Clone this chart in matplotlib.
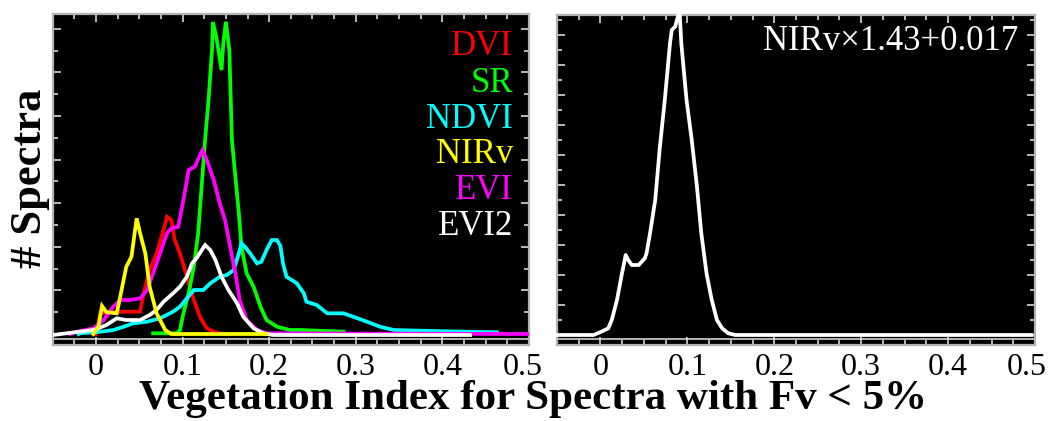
import matplotlib
matplotlib.use("Agg")
import matplotlib.pyplot as plt
from matplotlib.ticker import MultipleLocator
from matplotlib.transforms import ScaledTranslation

# ---------------- data ----------------
dvi_x = [0.000, 0.005, 0.024, 0.051, 0.055, 0.062, 0.070, 0.078, 0.082, 0.087, 0.091, 0.097,
         0.105, 0.113, 0.120, 0.128, 0.136, 0.143, 0.150]
dvi_y = [0, 20.7, 22.3, 22.3, 40.7, 64, 80.7, 104, 117.3, 114, 94, 80.7,
         57.3, 34, 17.3, 5.7, 2.3, 0.7, 0]

sr_x = [0.066, 0.093, 0.097, 0.101, 0.107, 0.113, 0.118, 0.122, 0.126, 0.130, 0.134, 0.135,
        0.139, 0.145, 0.147, 0.150, 0.154, 0.157, 0.161, 0.165, 0.168, 0.174, 0.182, 0.190,
        0.197, 0.209, 0.224, 0.236, 0.286]
sr_y = [0.7, 0.7, 4, 20.7, 40.7, 67.3, 100.7, 147.3, 194, 234, 284, 312,
        297.3, 264, 290.7, 312.3, 284, 194, 157.3, 120.7, 87.3, 60.7, 47.3, 27.3,
        14, 7.3, 4, 4, 2.3]

ndvi_x = [-0.020, -0.018, 0.005, 0.020, 0.032, 0.043, 0.059, 0.074, 0.089, 0.097, 0.105, 0.113,
          0.124, 0.132, 0.143, 0.151, 0.159, 0.165, 0.168, 0.172, 0.178, 0.186, 0.191, 0.197,
          0.203, 0.209, 0.213, 0.216, 0.220, 0.232, 0.240, 0.243, 0.255, 0.267, 0.286, 0.297,
          0.313, 0.328, 0.344, 0.390, 0.428, 0.463]
ndvi_y = [0, 0.7, 2.3, 4, 7.3, 10.7, 12.3, 15.7, 22.3, 27.3, 35.7, 44,
          44, 50.7, 57.3, 59, 64, 80.7, 90.7, 87.3, 80.7, 70.7, 72.3, 84,
          94, 94, 88, 70.7, 57.3, 50.7, 40.7, 32.3, 29, 20.7, 20.7, 17.3,
          12.3, 7.3, 4, 3, 2.3, 1.7]

nirv_x = [-0.003, 0.003, 0.007, 0.012, 0.024, 0.028, 0.035, 0.041, 0.047, 0.051, 0.057, 0.062,
          0.070, 0.080, 0.087, 0.197]
nirv_y = [0, 8, 28, 22, 20.7, 37.3, 67.3, 77.3, 115.7, 100.7, 80.7, 47.3,
          20.7, 4, 0, 0]

evi_x = [-0.030, -0.022, -0.003, 0.009, 0.020, 0.028, 0.039, 0.051, 0.059, 0.066, 0.074, 0.082,
         0.087, 0.095, 0.101, 0.107, 0.114, 0.123, 0.128, 0.136, 0.143, 0.149, 0.155, 0.161,
         0.166, 0.174, 0.186, 0.197, 0.500]
evi_y = [0, 2.3, 5.7, 14, 27.3, 34, 34, 35.7, 44, 60.7, 80.7, 100.7,
         105.7, 107.3, 134, 164, 167.3, 184, 174, 154, 130.7, 114, 87.3, 60.7,
         34, 14, 4, 0.7, 0]

evi2_x = [-0.050, -0.003, 0.012, 0.024, 0.035, 0.051, 0.062, 0.070, 0.078, 0.089, 0.097, 0.105,
          0.111, 0.116, 0.126, 0.132, 0.138, 0.145, 0.153, 0.163, 0.170, 0.182, 0.193, 0.205,
          0.432]
evi2_y = [-1, 4, 9, 15.7, 14, 14, 19, 24, 32.3, 40.7, 47.3, 57.3,
          70.7, 75.7, 89, 84, 74, 57.3, 44, 30.7, 17.3, 5.7, 0.7, -1,
          -1]

scaled_x = [-0.050, -0.008, 0.001, 0.009, 0.013, 0.019, 0.024, 0.029, 0.032, 0.036, 0.044, 0.051,
            0.053, 0.057, 0.063, 0.068, 0.074, 0.080, 0.082, 0.086, 0.088, 0.091, 0.093, 0.099,
            0.105, 0.111, 0.116, 0.122, 0.128, 0.134, 0.140, 0.147, 0.155, 0.496]
scaled_y = [0, 0, 3.3, 6.7, 15, 35, 58.3, 80, 75, 70, 70, 76.7,
            81.7, 101.7, 135, 185, 235, 291.7, 305, 308.3, 315, 324, 291.7, 235,
            195, 148.3, 101.7, 61.7, 35, 15, 6.7, 1.7, 0, 0]

index_names = ["DVI", "SR", "NDVI", "NIRv", "EVI", "EVI2"]
index_colors = ["#ff0000", "#00ff00", "#00ffff", "#ffff00", "#ff00ff", "#ffffff"]
xtick_values = [0, 0.1, 0.2, 0.3, 0.4, 0.5]
xtick_labels = ["0", "0.1", "0.2", "0.3", "0.4", "0.5"]
right_label = "NIRv\u00d71.43+0.017"
xlabel_text = "Vegetation Index for Spectra with Fv < 5%"
ylabel_text = "# Spectra"

# ---------------- figure ----------------
serif = ["Liberation Serif", "DejaVu Serif"]
fig = plt.figure(figsize=(10.51, 4.21), dpi=100)
fig.patch.set_facecolor("white")

axL = fig.add_axes([0.0501, 0.1805, 0.4532, 0.786])
axR = fig.add_axes([0.530, 0.1805, 0.4548, 0.784])

spine_col = "#b4b4b4"
tick_col = "#d8d8d8"


def style(ax, ymaj, ymin, ylim, inner_y, last_shift):
    ax.set_facecolor("black")
    ax.set_xlim(-0.05, 0.5)
    ax.set_ylim(*ylim)
    for s in ax.spines.values():
        s.set_color(spine_col)
        s.set_linewidth(1.6)
    ax.set_xticks(xtick_values)
    ax.set_xticklabels(xtick_labels)
    ax.xaxis.set_minor_locator(MultipleLocator(0.025))
    ax.yaxis.set_major_locator(MultipleLocator(ymaj))
    ax.yaxis.set_minor_locator(MultipleLocator(ymin))
    ax.tick_params(which="both", direction="in", top=True, right=True,
                   color=tick_col, width=1.2)
    ax.tick_params(which="major", length=6)
    ax.tick_params(which="minor", length=3.5)
    ax.tick_params(axis="x", pad=6, labelsize=23)
    ax.tick_params(axis="y", labelleft=False)
    labs = ax.get_xticklabels()
    for lab in labs:
        lab.set_fontfamily(serif)
    last = labs[-1]
    last.set_transform(last.get_transform() +
                       ScaledTranslation(last_shift / 100.0, 0, fig.dpi_scale_trans))
    ax.axhline(inner_y, color=spine_col, lw=1.4, zorder=1)


style(axL, 43.6, 21.8, (-11, 320), -5, -6)
style(axR, 30, 15, (-10, 320), -3.8, -8)

lw = 2.7
series = [(dvi_x, dvi_y), (sr_x, sr_y), (ndvi_x, ndvi_y), (nirv_x, nirv_y),
          (evi_x, evi_y), (evi2_x, evi2_y)]
order = [0, 1, 2, 4, 5, 3]
for i in order:
    xs, ys = series[i]
    axL.plot(xs, ys, color=index_colors[i], lw=lw, zorder=3,
             solid_joinstyle="miter")

base_y = [0.876, 0.764, 0.656, 0.550, 0.441, 0.332]
for name, col, yy in zip(index_names, index_colors, base_y):
    axL.text(0.966, yy, name, color=col, fontsize=25, family=serif,
             ha="right", va="baseline", transform=axL.transAxes)

axR.plot(scaled_x, scaled_y, color="white", lw=lw, zorder=3, clip_on=False)
axR.text(0.964, 0.894, right_label, color="white", fontsize=25, family=serif,
         ha="right", va="baseline", transform=axR.transAxes)

fig.text(0.507, 0.029, xlabel_text, fontsize=31, fontweight="bold",
         family=serif, ha="center", va="baseline")
fig.text(0.0285, 0.577, ylabel_text, fontsize=32, fontweight="bold",
         family=serif, ha="center", va="center", rotation=90)

fig.savefig("out.png", dpi=100, facecolor="white")
